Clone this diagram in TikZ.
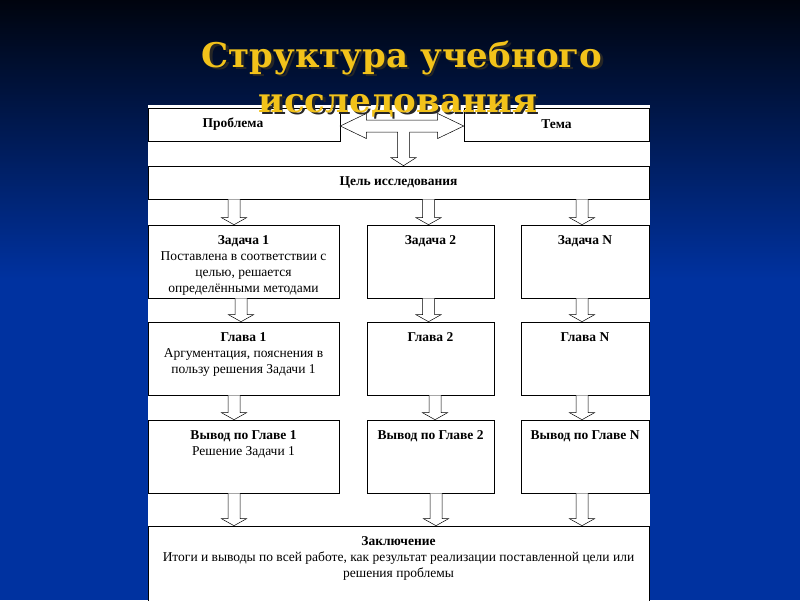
\documentclass[tikz,border=0pt]{standalone}
\usepackage{fontspec}
\setmainfont{Liberation Serif}
\newfontfamily\titlefont{DejaVu Serif}
\usepackage{tikz}
\usetikzlibrary{calc}
\definecolor{titlegold}{HTML}{F2C21A}
\definecolor{slidetop}{HTML}{00040E}
\definecolor{slideblue}{HTML}{0032A0}
\tikzset{%
    title line/.style={
            font=\titlefont\bfseries\fontsize{34}{40}\selectfont,
            text=titlegold,
            anchor=base,
            inner sep=0pt
        },
    title shadow/.style={
            title line,
            text=black!85
        },
    block/.style={
            draw,
            fill=white,
            line width=0.6pt,
            inner sep=0pt,
            font=\bfseries\fontsize{13.5}{16.5}\selectfont
        },
    block text/.style={
            anchor=north,
            align=center,
            inner sep=0pt,
            yshift=-10.5pt,
            font=\fontsize{13.5}{16}\selectfont
        },
    block arrow/.style={
            draw,
            fill=white,
            line width=0.5pt,
            line join=miter
        },
}
% hollow arrow pointing down, at x=#1 from #2 to #3
\newcommand{\blockdown}[3]{%
    \draw [block arrow] let \p1=(#2), \p2=(#3) in
        (#1pt-6pt,\y1) -- (#1pt-6pt,\y2+7pt) -- (#1pt-12.5pt,\y2+7pt)
        -- (#1pt,\y2) -- (#1pt+12.5pt,\y2+7pt) -- (#1pt+6pt,\y2+7pt)
        -- (#1pt+6pt,\y1);
}

\begin{document}
\begin{tikzpicture}[x=1pt, y=-1pt]

        \useasboundingbox (0,0) rectangle (800,600);

        % slide background
        \fill [slideblue] (0,0) rectangle (800,600);
        \shade [top color=slidetop, bottom color=slideblue] (0,0) rectangle (800,280);
        \fill [white] (148,105) rectangle (650,600);

        % top row
        \node [block, minimum width=192, minimum height=33] (problem) at (244,124.5) {\hspace*{-22pt}Проблема};
        \node [block, minimum width=185, minimum height=33] (topic) at (556.5,124.5) {Тема};
        \node [block, minimum width=501, minimum height=33] (goal) at (398.5,182.5) {Цель исследования};

        % three columns
        \foreach \c/\cx/\w in {1/243.5/191, 2/430.5/127, N/585/128}
        {
            \node [block, minimum width=\w, minimum height=73] (task-\c) at (\cx,261.5) {};
            \node [block, minimum width=\w, minimum height=73] (chapter-\c) at (\cx,358.5) {};
            \node [block, minimum width=\w, minimum height=73] (result-\c) at (\cx,456.5) {};
        }

        \node [block, minimum width=501, minimum height=76] (summary) at (398.5,564) {};

        % texts
        \node [block text] (task-1-text) at (task-1.north)
            {\textbf{Задача 1}\\Поставлена в соответствии с\\целью, решается\\определёнными методами};
        \node [block text] (task-2-text) at (task-2.north) {\textbf{Задача 2}};
        \node [block text] (task-N-text) at (task-N.north) {\textbf{Задача N}};

        \node [block text] (chapter-1-text) at (chapter-1.north)
            {\textbf{Глава 1}\\Аргументация, пояснения в\\пользу решения Задачи 1};
        \node [block text] (chapter-2-text) at (chapter-2.north) {\textbf{Глава 2}};
        \node [block text] (chapter-N-text) at (chapter-N.north) {\textbf{Глава N}};

        \node [block text] (result-1-text) at (result-1.north)
            {\textbf{Вывод по Главе 1}\\Решение Задачи 1};
        \node [block text] (result-2-text) at (result-2.north) {\textbf{Вывод по Главе 2}};
        \node [block text] (result-N-text) at (result-N.north) {\textbf{Вывод по Главе N}};

        \node [block text] (summary-text) at (summary.north)
            {\textbf{Заключение}\\Итоги и выводы по всей работе, как результат реализации поставленной цели или\\решения проблемы};

        % problem <-> topic, down to goal
        \draw [block arrow] let \p1=(problem.east), \p2=(topic.west), \p3=(goal.north),
            \p4=($(problem.east)+(0,1.5)$) in
            (\x1,\y4) -- (\x1+26pt,\y4+12.5pt) -- (\x1+26pt,\y4+6pt)
            -- (\x2-26pt,\y4+6pt) -- (\x2-26pt,\y4+12.5pt) -- (\x2,\y4)
            -- (\x2-26pt,\y4-12.5pt) -- (\x2-26pt,\y4-6pt)
            -- (409.5pt,\y4-6pt) -- (409.5pt,\y3+8pt) -- (416pt,\y3+8pt)
            -- (403.5pt,\y3) -- (391pt,\y3+8pt) -- (397.5pt,\y3+8pt)
            -- (397.5pt,\y4-6pt) -- (\x1+26pt,\y4-6pt) -- (\x1+26pt,\y4-12.5pt)
            -- cycle;

        % arrows between the rows
        \foreach \c/\xa/\xb/\xc/\xd in {1/234/241/234/234, 2/428.5/428.5/435/436, N/582/582/582/582}
        {
            \blockdown{\xa}{goal.south}{task-\c.north}
            \blockdown{\xb}{task-\c.south}{chapter-\c.north}
            \blockdown{\xc}{chapter-\c.south}{result-\c.north}
            \blockdown{\xd}{result-\c.south}{summary.north}
        }

        % title
        \node [title shadow] (title-1-shadow) at (404.5,69.5) {Структура учебного};
        \node [title shadow] (title-2-shadow) at (400.5,114.5) {исследования};
        \node [title line] (title-1) at (402,67) {Структура учебного};
        \node [title line] (title-2) at (398,112) {исследования};

    \end{tikzpicture}
\end{document}
